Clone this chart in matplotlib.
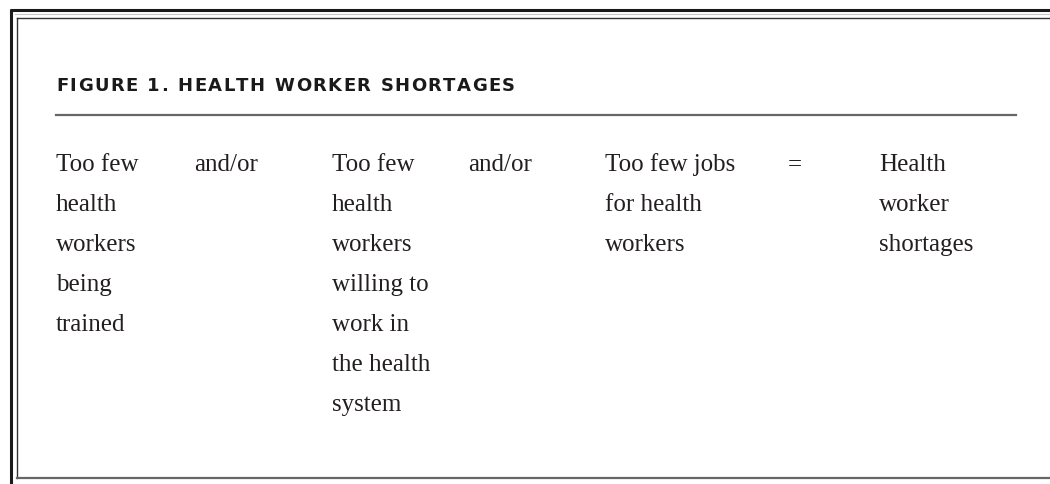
import matplotlib
matplotlib.use("Agg")
import matplotlib.pyplot as plt

# Texte de la figure
title = "FIGURE 1. HEALTH WORKER SHORTAGES"
columns = [
    ["Too few", "health", "workers", "being", "trained"],
    ["and/or"],
    ["Too few", "health", "workers", "willing to", "work in", "the health", "system"],
    ["and/or"],
    ["Too few jobs", "for health", "workers"],
    ["="],
    ["Health", "worker", "shortages"],
]

# mise en page (pixels)
col_x = [56, 194, 332, 468, 605, 788, 879]
first_base = 171
line_gap = 40
ink = "#231f20"

fig = plt.figure(figsize=(10.5, 4.85), dpi=100)
ax = fig.add_axes([0, 0, 1, 1])
ax.set_xlim(0, 1050)
ax.set_ylim(485, 0)
ax.axis("off")

# cadre
ax.plot([9.5, 1050], [11, 11], color="#1a1a1a", lw=2.2, solid_capstyle="butt")
ax.plot([10.5, 10.5], [10, 485], color="#1a1a1a", lw=2.2, solid_capstyle="butt")
ax.plot([15, 1050], [15, 15], color="#c8c8c8", lw=0.8)
ax.plot([17, 1050], [19, 19], color="#333333", lw=1.0)
ax.plot([17, 17], [19, 479], color="#333333", lw=1.0)
ax.plot([17, 1050], [479, 479], color="#666666", lw=1.6)

# titre avec espacement des lettres
fs_title = 13
r = fig.canvas.get_renderer()
widths = []
for ch in title:
    t = ax.text(0, 0, ch if ch != " " else "n", fontsize=fs_title, fontweight="bold",
                family="DejaVu Sans")
    w = t.get_window_extent(renderer=r).width
    if ch == " ":
        w *= 0.55
    widths.append(w)
    t.remove()
track = (459 - sum(widths)) / (len(title) - 1)
x = 56
for ch, w in zip(title, widths):
    if ch != " ":
        ax.text(x, 91, ch, fontsize=fs_title, fontweight="bold", family="DejaVu Sans",
                color="#1a1a1a", va="baseline", ha="left")
    x += w + track

ax.plot([56, 1016], [116, 116], color="#666666", lw=1.6)

# colonnes
for cx, lines in zip(col_x, columns):
    for i, s in enumerate(lines):
        ax.text(cx, first_base + i * line_gap, s, fontsize=18, family="Liberation Serif",
                color=ink, va="baseline", ha="left")

fig.savefig("out.png", dpi=100)
